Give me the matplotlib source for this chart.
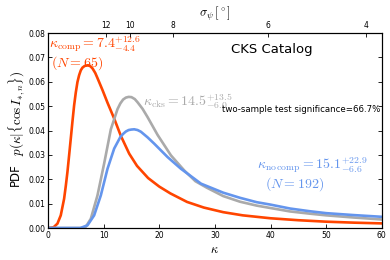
import numpy as np
import matplotlib
matplotlib.use("Agg")
import matplotlib.pyplot as plt

# ---- du lieu doc tu hinh ----
# duong cam: mau co dong hanh (comp)
kap_comp = [0, 1.0, 1.7, 2.3, 2.9, 3.2, 3.5, 3.8, 4.1, 4.4, 4.7, 5.0, 5.3, 5.6, 5.9, 6.2,
            6.6, 7.2, 7.6, 8.0, 8.5, 8.9, 9.8, 10.7, 11.9, 13.1, 14.6, 16.0, 18.0, 20.0,
            22.0, 25.0, 28.0, 31.5, 35.0, 40.0, 45.0, 50.0, 55.0, 60.0]
pdf_comp = [0, 0.0003, 0.0018, 0.0052, 0.012, 0.0172, 0.023, 0.0298, 0.0367, 0.0437,
            0.0503, 0.0556, 0.0599, 0.0627, 0.0647, 0.0658, 0.0665, 0.0668, 0.0664,
            0.0655, 0.0636, 0.0615, 0.0566, 0.0514, 0.0449, 0.0378, 0.0305, 0.0255,
            0.0205, 0.0170, 0.0142, 0.0107, 0.0084, 0.0065, 0.0052, 0.0040, 0.0032,
            0.0026, 0.0022, 0.0019]

# duong xam: ca catalog CKS
kap_cks = [0, 6.0, 6.8, 7.7, 8.9, 10.1, 11.3, 12.5, 13.0, 13.5, 14.0, 14.5, 15.0, 15.6,
           16.1, 17.0, 17.9, 19.7, 22.1, 24.5, 26.5, 28.5, 31.5, 34.5, 37.5, 40.0, 43.5,
           47.0, 50.0, 55.0, 60.0]
pdf_cks = [0, 0, 0.0005, 0.0038, 0.0134, 0.0265, 0.0405, 0.0488, 0.0511, 0.0527, 0.0535,
           0.0538, 0.0537, 0.0529, 0.0516, 0.0489, 0.0455, 0.0382, 0.0298, 0.0236,
           0.0192, 0.0166, 0.0131, 0.0108, 0.0092, 0.0082, 0.0068, 0.0059, 0.0052,
           0.0043, 0.0035]

# duong xanh: khong co dong hanh (no comp)
kap_nocomp = [0, 5.8, 7.1, 8.3, 9.5, 10.7, 11.9, 13.0, 13.5, 14.0, 14.5, 15.0, 15.5, 16.1,
              16.7, 17.9, 19.1, 21.5, 23.9, 25.5, 27.5, 31.5, 34.5, 37.5, 40.0, 43.5,
              47.0, 50.0, 55.0, 60.0]
pdf_nocomp = [0, 0, 0.0011, 0.0052, 0.0134, 0.0243, 0.0326, 0.0373, 0.0386, 0.0396,
              0.0402, 0.0404, 0.0405, 0.0402, 0.0395, 0.0372, 0.0346, 0.0291, 0.0243,
              0.0216, 0.0182, 0.0145, 0.0124, 0.0106, 0.0096, 0.0080, 0.0069, 0.0061,
              0.0053, 0.0046]

# truc tren: sigma_psi (do) va vi tri kappa tuong ung
sigma_labels = ['12', '10', '8', '6', '4']
sigma_kappa = [10.5, 14.8, 22.5, 39.6, 57.2]

c_comp = '#FF4500'
c_cks = '#AAAAAA'
c_nocomp = '#6495ED'

plt.rcParams['mathtext.fontset'] = 'cm'

fig = plt.figure(figsize=(3.9, 2.6), dpi=100)
ax = fig.add_axes([0.123, 0.123, 0.856, 0.750])

ax.plot(kap_comp, pdf_comp, color=c_comp, lw=1.9)
ax.plot(kap_cks, pdf_cks, color=c_cks, lw=1.9)
ax.plot(kap_nocomp, pdf_nocomp, color=c_nocomp, lw=1.9)

ax.set_xlim(0, 60)
ax.set_ylim(0, 0.08)
ax.set_xticks(np.arange(0, 61, 10))
ax.set_yticks(np.arange(0, 0.081, 0.01))
ax.set_yticklabels(['%.2f' % v for v in np.arange(0, 0.081, 0.01)])
ax.tick_params(direction='in', length=3, width=0.6, labelsize=5.5, pad=2,
               right=True, top=False)
for s in ax.spines.values():
    s.set_linewidth(0.8)
ax.set_xlabel(r'$\kappa$', fontsize=9, labelpad=2)

# truc tren
ax2 = ax.twiny()
ax2.set_xlim(0, 60)
ax2.set_xticks(sigma_kappa)
ax2.set_xticklabels(sigma_labels)
ax2.tick_params(direction='in', length=3, width=0.6, labelsize=5.5, pad=2)
ax2.set_xlabel(r'$\sigma_\psi\,[^\circ]$', fontsize=9, labelpad=3)

# nhan truc y
fig.text(0.040, 0.327, 'PDF', rotation=90, fontsize=8.5, ha='center', va='center')
fig.text(0.045, 0.565, r'$p(\kappa|\{\cos I_{*,n}\})$', rotation=90, fontsize=9.5,
         ha='center', va='center')

# chu thich
ax.text(0.25, 0.0741, r'$\kappa_{\rm comp}=7.4^{+12.6}_{-4.4}$', color=c_comp,
        fontsize=10, ha='left', va='baseline')
ax.text(0.6, 0.0664, r'$(N=65)$', color=c_comp, fontsize=10, ha='left', va='baseline')
ax.text(17.0, 0.0522, r'$\kappa_{\rm cks}=14.5^{+13.5}_{-6.0}$', color=c_cks,
        fontsize=10, ha='left', va='center')
ax.text(40.2, 0.0733, 'CKS Catalog', fontsize=9.5, ha='center', va='center')
ax.text(59.8, 0.0485, 'two-sample test significance=66.7%', fontsize=6.2,
        ha='right', va='center')
ax.text(37.5, 0.0243, r'$\kappa_{\rm no\,comp}=15.1^{+22.9}_{-6.6}$', color=c_nocomp,
        fontsize=10, ha='left', va='baseline')
ax.text(39.0, 0.0164, r'$(N=192)$', color=c_nocomp, fontsize=10, ha='left',
        va='baseline')

plt.savefig('out.png', dpi=100)
